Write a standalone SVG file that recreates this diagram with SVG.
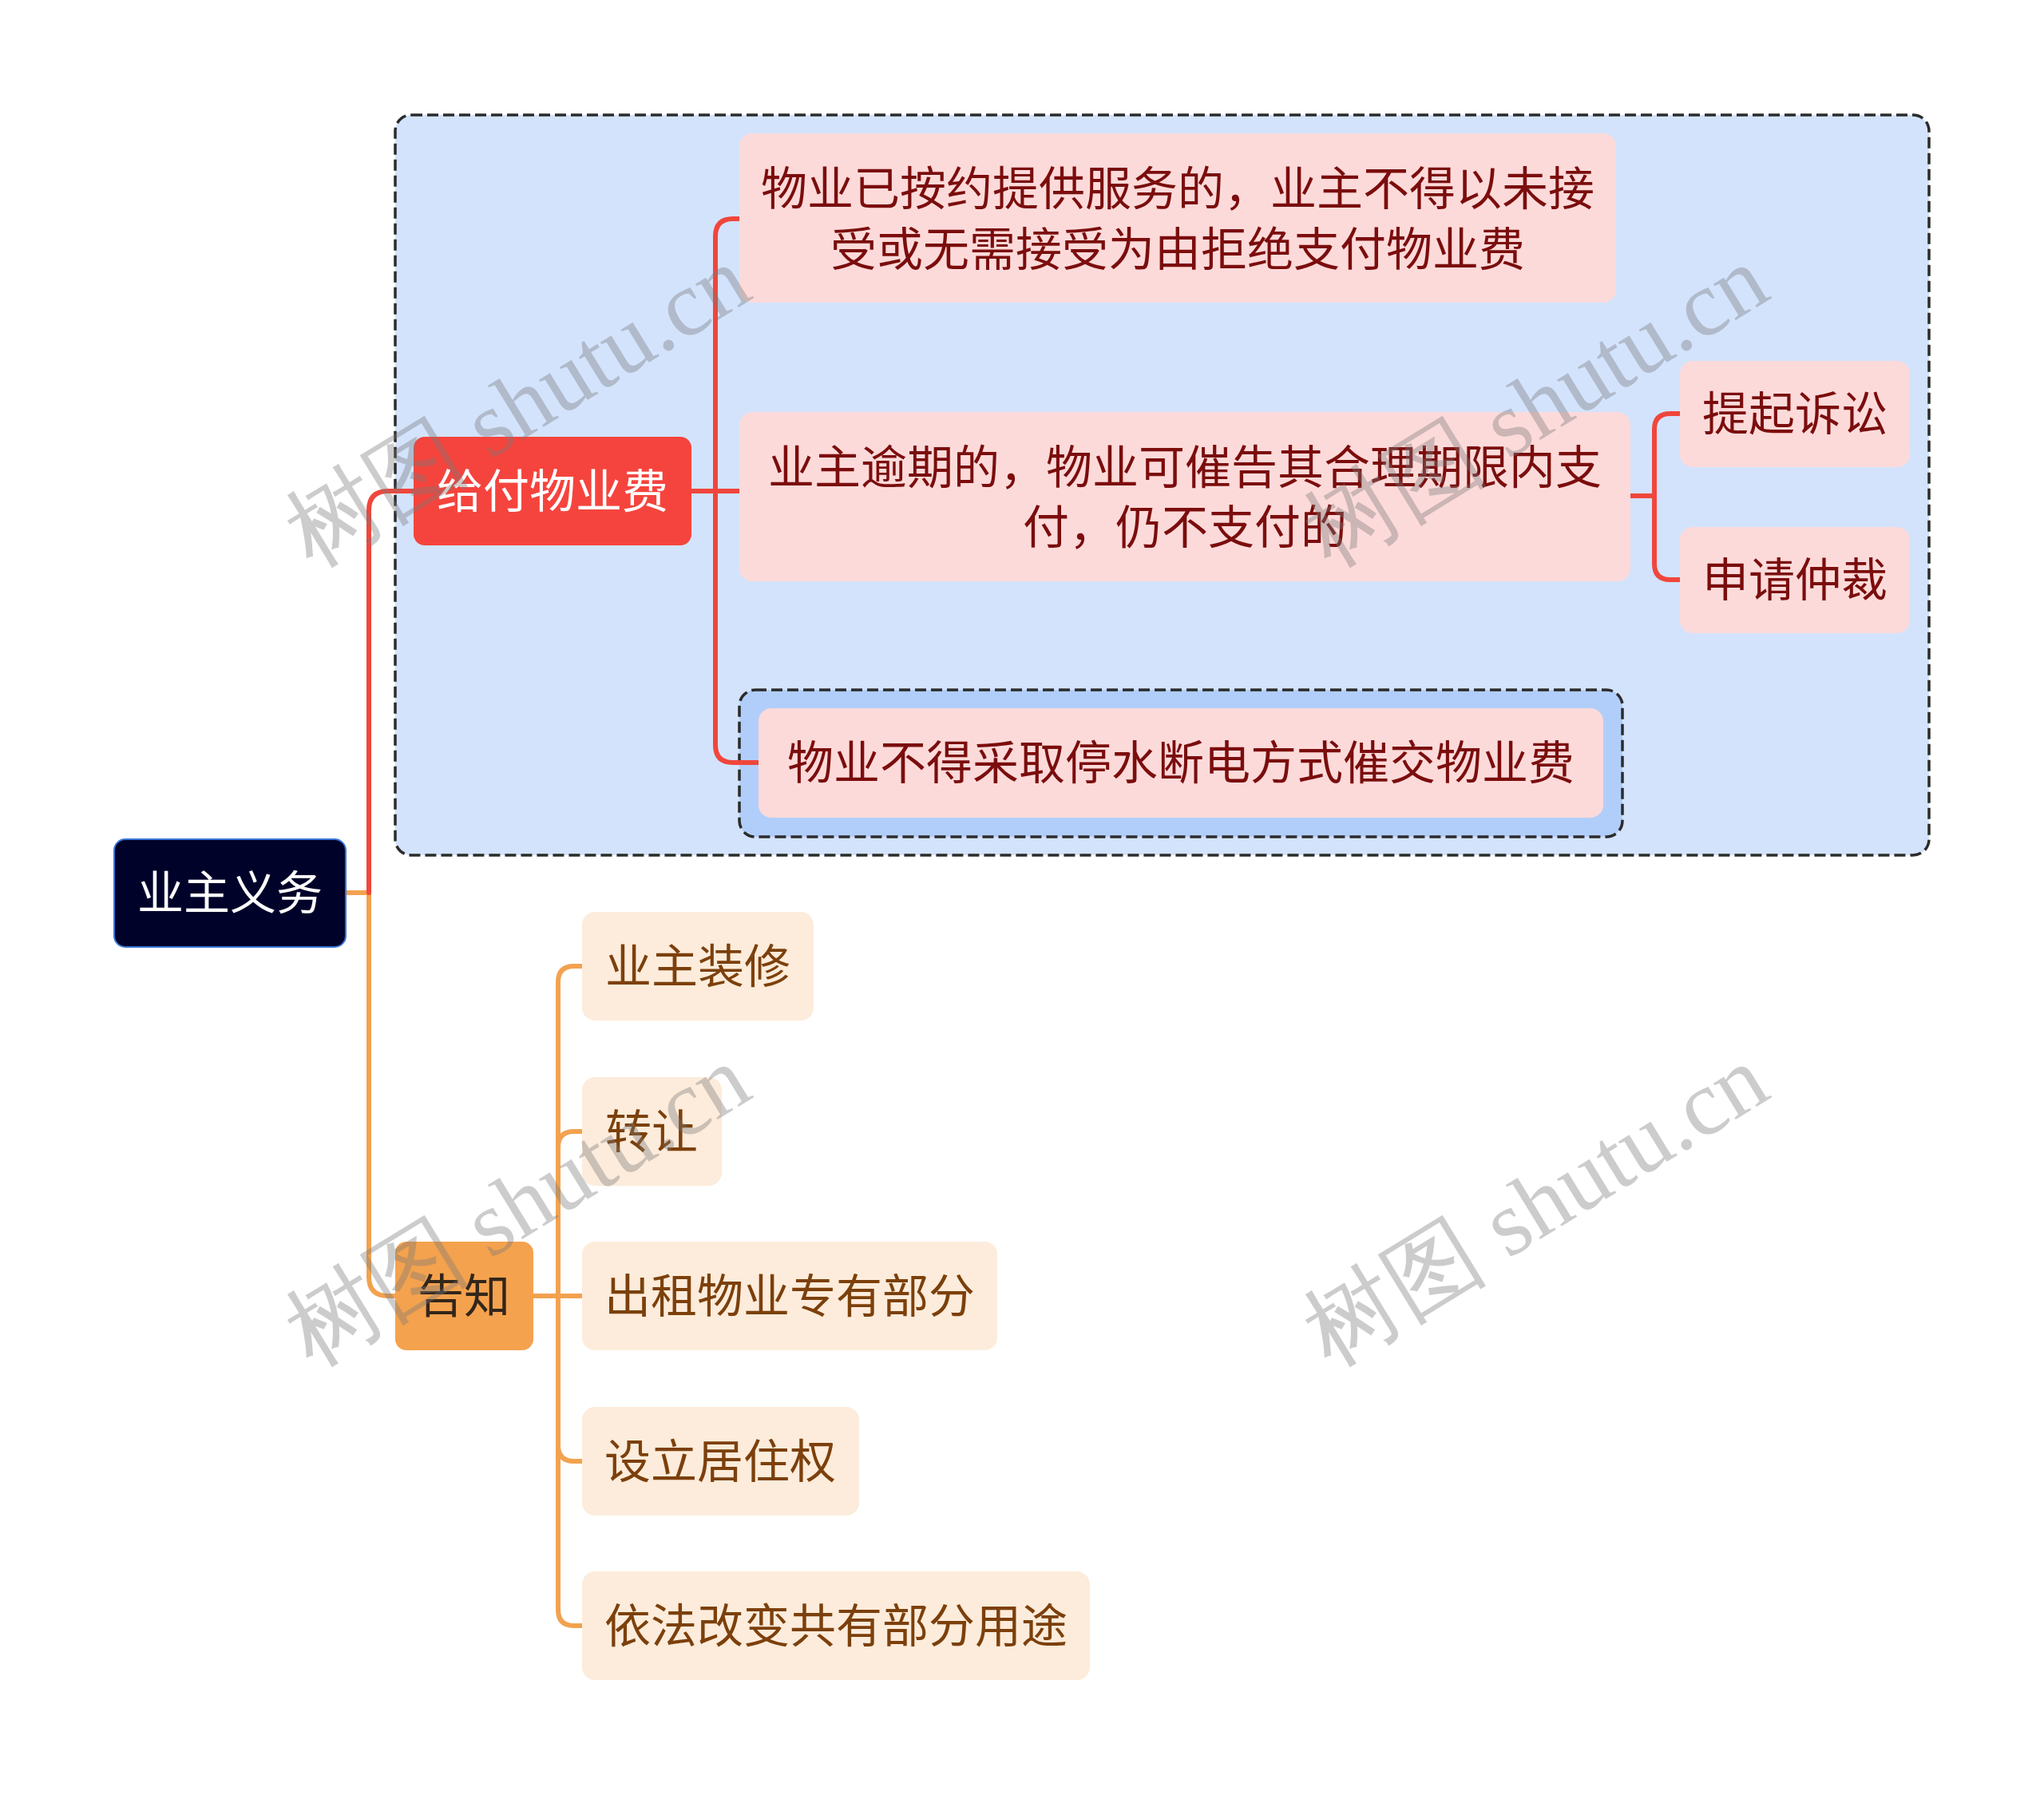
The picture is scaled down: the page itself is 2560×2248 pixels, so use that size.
<svg xmlns="http://www.w3.org/2000/svg" width="2560" height="2248" viewBox="0 0 2560 2248">
<style>
.t{font-family:"Noto Sans CJK SC","Noto Sans",sans-serif;font-size:58px;text-anchor:middle;dominant-baseline:central}
.red{fill:none;stroke:#f0463c;stroke-width:6;stroke-linecap:round;stroke-linejoin:round}
.org{fill:none;stroke:#f2a24f;stroke-width:6;stroke-linecap:round;stroke-linejoin:round}
.dash{stroke:#2b2b2b;stroke-width:3.5;stroke-dasharray:14 6}
.pk{fill:#fddada}
.pt{fill:#7b0d0d}
.ob{fill:#fdecdb}
.ot{fill:#7c400c}
.wm{font-family:"Liberation Serif",serif;font-size:116px;fill:#7a7a7a;fill-opacity:0.38;text-anchor:middle;dominant-baseline:central}
</style>
<rect width="2560" height="2248" fill="#ffffff"/>
<g id="boundary-main"><rect x="495" y="144" width="1921" height="927" rx="20" fill="#d3e3fc" class="dash"/></g>
<g id="boundary-sub"><rect x="926" y="864" width="1106" height="184" rx="20" fill="#b1cefa" class="dash"/></g>
<g id="connectors">
<path class="org" d="M433,1118 H462 V1599 Q462,1623 486,1623 H495"/>
<path class="red" d="M462,1118 V639 Q462,615 486,615 H518"/>
<path class="red" d="M865,615 H926"/>
<path class="red" d="M926,274 H918 Q896,274 896,296 V933 Q896,955 918,955 H950"/>
<path class="red" d="M2042,621 H2072"/>
<path class="red" d="M2104,518 H2092 Q2072,518 2072,538 V706 Q2072,726 2092,726 H2104"/>
<path class="org" d="M668,1623 H730"/>
<path class="org" d="M730,1210 H719 Q699,1210 699,1230 V2016 Q699,2036 719,2036 H730"/>
<path class="org" d="M699,1437 Q699,1417 719,1417 H730"/>
<path class="org" d="M699,1810 Q699,1830 719,1830 H730"/>
</g>
<g id="root"><rect x="143" y="1051" width="290" height="135" rx="14" fill="#00022a" stroke="#3a78d8" stroke-width="2"/><text class="t" x="288" y="1114" fill="#ffffff">业主义务</text></g>
<g id="n-pay"><rect x="518" y="547" width="348" height="136" rx="14" fill="#f5443d"/><text class="t" x="692" y="611" fill="#ffffff">给付物业费</text></g>
<g id="n-pay-1"><rect x="926" y="167" width="1098" height="212" rx="16" class="pk"/><text class="t pt" x="1475" y="232">物业已按约提供服务的，业主不得以未接</text><text class="t pt" x="1475" y="308">受或无需接受为由拒绝支付物业费</text></g>
<g id="n-pay-2"><rect x="926" y="516" width="1116" height="212" rx="16" class="pk"/><text class="t pt" x="1484" y="581">业主逾期的，物业可催告其合理期限内支</text><text class="t pt" x="1484" y="656">付，仍不支付的</text></g>
<g id="n-sue"><rect x="2104" y="452" width="288" height="133" rx="16" class="pk"/><text class="t pt" x="2248" y="514">提起诉讼</text></g>
<g id="n-arb"><rect x="2104" y="660" width="288" height="133" rx="16" class="pk"/><text class="t pt" x="2248" y="722">申请仲裁</text></g>
<g id="n-pay-3"><rect x="950" y="887" width="1058" height="137" rx="16" class="pk"/><text class="t pt" x="1479" y="951">物业不得采取停水断电方式催交物业费</text></g>
<g id="n-notify"><rect x="495" y="1555" width="173" height="136" rx="14" fill="#f4a24e"/><text class="t" x="581" y="1619" fill="#33261a">告知</text></g>
<g id="n-n1"><rect x="729" y="1142" width="290" height="136" rx="16" class="ob"/><text class="t ot" x="874" y="1206">业主装修</text></g>
<g id="n-n2"><rect x="729" y="1349" width="175" height="136" rx="16" class="ob"/><text class="t ot" x="816" y="1413">转让</text></g>
<g id="n-n3"><rect x="729" y="1555" width="520" height="136" rx="16" class="ob"/><text class="t ot" x="989" y="1619">出租物业专有部分</text></g>
<g id="n-n4"><rect x="729" y="1762" width="347" height="136" rx="16" class="ob"/><text class="t ot" x="902" y="1826">设立居住权</text></g>
<g id="n-n5"><rect x="729" y="1968" width="636" height="136" rx="16" class="ob"/><text class="t ot" x="1047" y="2032">依法改变共有部分用途</text></g>
<g id="watermarks">
<text class="wm" transform="translate(648,509) rotate(-31.5)">树图 shutu.cn</text>
<text class="wm" transform="translate(1923,509) rotate(-31.5)">树图 shutu.cn</text>
<text class="wm" transform="translate(648,1510) rotate(-31.5)">树图 shutu.cn</text>
<text class="wm" transform="translate(1923,1510) rotate(-31.5)">树图 shutu.cn</text>
</g>
</svg>
